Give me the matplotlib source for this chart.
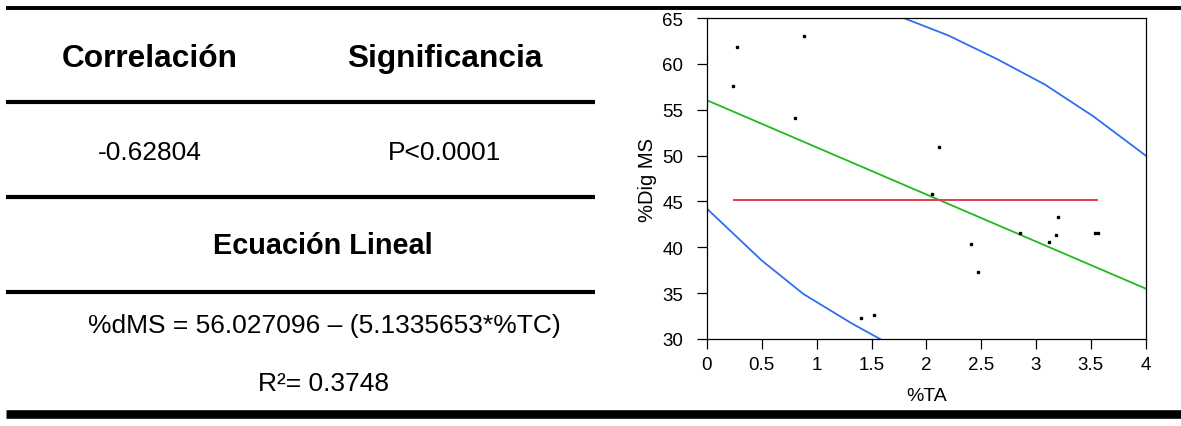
"""Correlation summary table next to the %Dig MS vs %TA regression plot."""

import matplotlib

matplotlib.use("Agg")

import matplotlib.pyplot as plt

plt.rcParams["font.family"] = ["Liberation Sans", "DejaVu Sans"]

# observed points (%TA, %Dig MS)
ta_pct = [0.234, 0.271, 0.802, 0.887, 1.404, 1.522, 2.051, 2.118,
          2.404, 2.468, 2.853, 3.118, 3.185, 3.203, 3.537, 3.567]
dig_ms = [57.54, 61.80, 54.05, 63.00, 32.26, 32.62, 45.86, 50.93,
          40.41, 37.31, 41.60, 40.59, 41.39, 43.35, 41.60, 41.60]

# fitted line: %dMS = intercept - slope * %TC
intercept = 56.027096
slope = 5.1335653
r_squared = 0.3748
correlation = -0.62804
significance = "P<0.0001"
mean_dig = 45.2

# prediction band edges
upper_x = [1.76, 2.2, 2.64, 3.08, 3.52, 4.0]
upper_y = [65.15, 63.1, 60.55, 57.75, 54.3, 50.0]
lower_x = [0.0, 0.5, 0.88, 1.32, 1.76]
lower_y = [44.2, 38.55, 34.9, 31.7, 28.8]

x_ticks = [0, 0.5, 1, 1.5, 2, 2.5, 3, 3.5, 4]
x_tick_labels = ["0", "0.5", "1", "1.5", "2", "2.5", "3", "3.5", "4"]
y_ticks = [30, 35, 40, 45, 50, 55, 60, 65]

W, H = 1181, 427
fig = plt.figure(figsize=(W / 100, H / 100), dpi=100)

# --- table drawn on a pixel-space overlay ---
tab = fig.add_axes([0, 0, 1, 1])
tab.set_xlim(0, W)
tab.set_ylim(H, 0)
tab.axis("off")

tab.hlines(9, 6, W, color="black", linewidth=2.8)
for y in (103, 198, 293):
    tab.hlines(y, 6, 595, color="black", linewidth=3.0)
tab.hlines(415, 6, W, color="black", linewidth=6.2)

tab.text(150, 67, "Correlación", ha="center", va="baseline",
         fontsize=22.8, fontweight="bold")
tab.text(445, 67, "Significancia", ha="center", va="baseline",
         fontsize=22.8, fontweight="bold")
tab.text(150, 160, f"{correlation:.5f}", ha="center", va="baseline", fontsize=19)
tab.text(444, 160, significance, ha="center", va="baseline", fontsize=19)
tab.text(323, 254, "Ecuación Lineal", ha="center", va="baseline",
         fontsize=20.8, fontweight="bold")
tab.text(324, 333, f"%dMS = {intercept:.6f} \u2013 ({slope:.7f}*%TC)",
         ha="center", va="baseline", fontsize=19)
tab.text(324, 391, f"R\u00b2= {r_squared:.4f}", ha="center", va="baseline", fontsize=19)

# --- regression plot ---
left, right, top, bottom = 707, 1145.7, 19, 340
ax = fig.add_axes([left / W, 1 - bottom / H, (right - left) / W, (bottom - top) / H])

ax.plot(upper_x, upper_y, color="#2f6fef", linewidth=1.3)
ax.plot(lower_x, lower_y, color="#2f6fef", linewidth=1.3)
ax.plot([0, 4], [intercept, intercept - slope * 4], color="#22b822", linewidth=1.3)
ax.hlines(mean_dig, min(ta_pct), max(ta_pct), color="#e63c50", linewidth=1.4)
ax.plot(ta_pct, dig_ms, linestyle="none", marker="s", markersize=1.9,
        color="black")

ax.set_xlim(0, 4)
ax.set_ylim(30, 65)
ax.set_xticks(x_ticks)
ax.set_xticklabels(x_tick_labels)
ax.set_yticks(y_ticks)
ax.tick_params(direction="out", length=7.2, width=0.9, labelsize=13.5)
ax.tick_params(axis="y", pad=10)
ax.tick_params(axis="x", pad=5)
for spine in ax.spines.values():
    spine.set_linewidth(0.9)

ax.set_xlabel("%TA", fontsize=14)
ax.set_ylabel("%Dig MS", fontsize=14.5)
ax.xaxis.set_label_coords(0.5, -0.15)
ax.yaxis.set_label_coords(-0.115, 0.5)

fig.savefig("out.png", dpi=100)
